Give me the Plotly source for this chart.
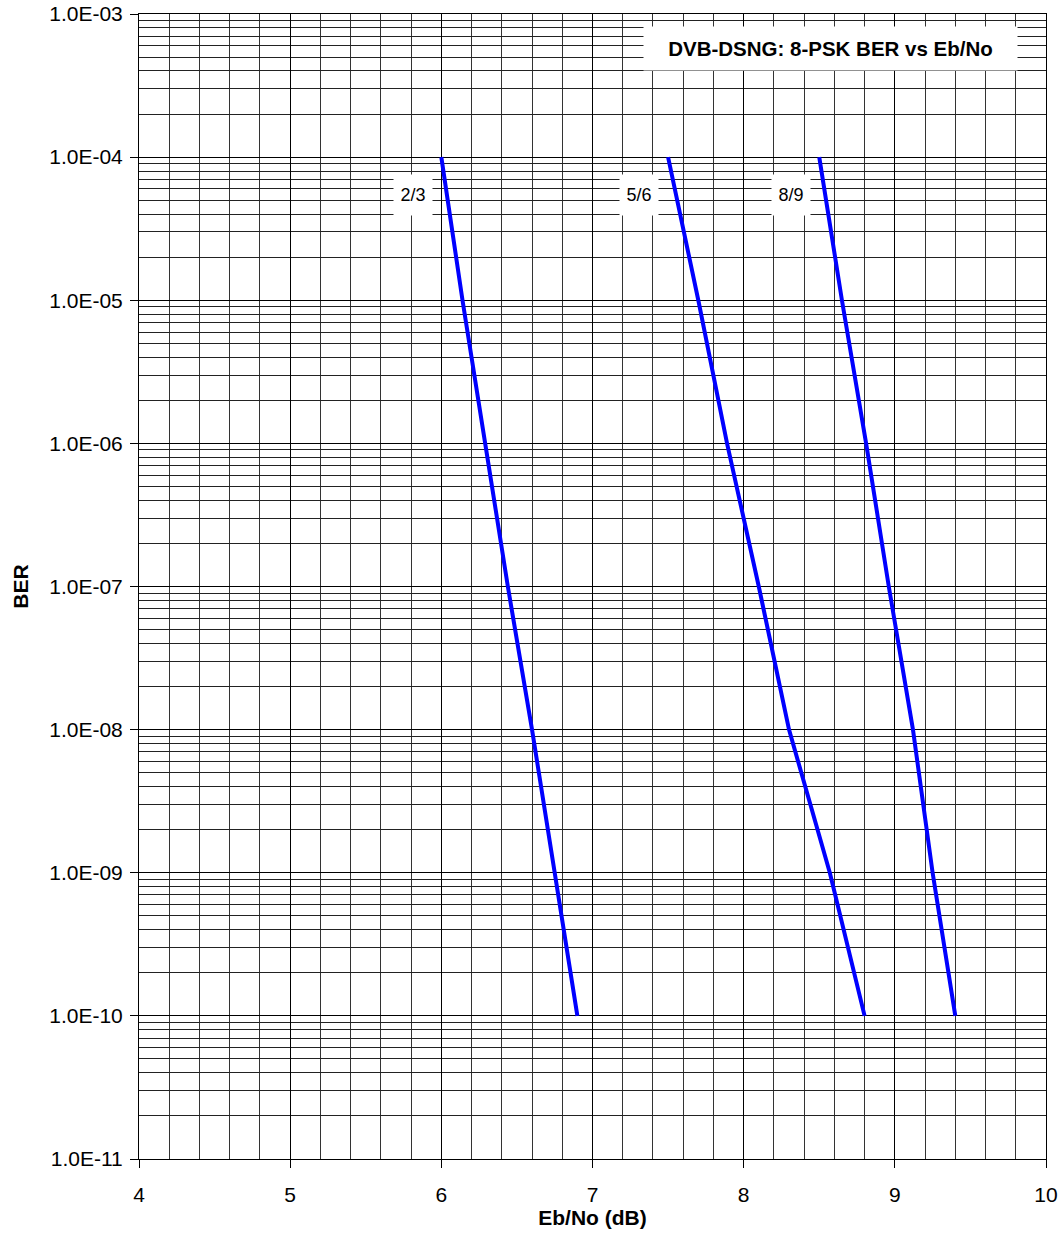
import math
import plotly.graph_objects as go

# ---- data ----
ber = [1e-4, 1e-5, 1e-6, 1e-7, 1e-8, 1e-9, 1e-10]
ebno_2_3 = [6.0, 6.14, 6.29, 6.44, 6.60, 6.75, 6.90]
ebno_5_6 = [7.5, 7.70, 7.89, 8.10, 8.30, 8.57, 8.80]
ebno_8_9 = [8.5, 8.65, 8.81, 8.96, 9.12, 9.25, 9.40]
rate_names = ["2/3", "5/6", "8/9"]

y_tickvals = [1e-3, 1e-4, 1e-5, 1e-6, 1e-7, 1e-8, 1e-9, 1e-10, 1e-11]
y_ticktext = ["1.0E-03", "1.0E-04", "1.0E-05", "1.0E-06", "1.0E-07",
              "1.0E-08", "1.0E-09", "1.0E-10", "1.0E-11"]
x_tickvals = [4, 5, 6, 7, 8, 9, 10]
x_ticktext = ["4", "5", "6", "7", "8", "9", "10"]

title_text = "DVB-DSNG: 8-PSK BER vs Eb/No"
x_title = "Eb/No (dB)"
y_title = "BER"

FONT = "Arial, 'Liberation Sans', sans-serif"

fig = go.Figure()
series = [ebno_2_3, ebno_5_6, ebno_8_9]
for name, xs in zip(rate_names, series):
    fig.add_trace(go.Scatter(
        x=xs, y=ber, mode="lines", name=name,
        line=dict(color="#0000FF", width=4),
        showlegend=False, hoverinfo="x+y",
    ))
    # rate label just left of the curve's top end
    fig.add_annotation(
        x=xs[0] - 0.19, y=math.log10(5.4e-5), xref="x", yref="y",
        text=name, showarrow=False,
        font=dict(family=FONT, size=18, color="black"),
        bgcolor="white", width=38, height=40, borderpad=0,
        xanchor="center", yanchor="middle",
    )

fig.add_annotation(
    x=0.762, y=0.970, xref="paper", yref="paper",
    text="<b>" + title_text + "</b>", showarrow=False,
    font=dict(family=FONT, size=20.5, color="black"),
    bgcolor="white", width=373, height=43, borderpad=0,
    xanchor="center", yanchor="middle",
)

fig.update_layout(
    width=1064, height=1255,
    margin=dict(l=139, r=18, t=14, b=96),
    paper_bgcolor="white", plot_bgcolor="white",
    font=dict(family=FONT, size=21, color="black"),
    xaxis=dict(
        range=[4, 10], tickvals=x_tickvals, ticktext=x_ticktext,
        ticks="outside", ticklen=8, tickcolor="black", tickwidth=1,
        ticklabelstandoff=9, ticklabeloverflow="allow",
        showgrid=True, gridcolor="black", gridwidth=1,
        minor=dict(dtick=0.2, showgrid=True, gridcolor="#333333",
                   gridwidth=1, ticks=""),
        showline=True, linecolor="black", linewidth=1, mirror=True,
        zeroline=False, automargin=False,
        title=dict(text="<b>" + x_title + "</b>", standoff=2,
                   font=dict(family=FONT, size=21)),
        tickfont=dict(family=FONT, size=21),
    ),
    yaxis=dict(
        type="log", range=[-11, -3],
        tickvals=y_tickvals, ticktext=y_ticktext,
        ticks="outside", ticklen=8, tickcolor="black", tickwidth=1,
        ticklabelstandoff=3, ticklabeloverflow="allow",
        showgrid=True, gridcolor="black", gridwidth=1,
        minor=dict(dtick="D1", showgrid=True, gridcolor="#222222",
                   gridwidth=1, ticks=""),
        showline=True, linecolor="black", linewidth=1, mirror=True,
        zeroline=False, automargin=False,
        title=dict(text="<b>" + y_title + "</b>", standoff=14,
                   font=dict(family=FONT, size=21)),
        tickfont=dict(family=FONT, size=21),
    ),
)

# remove the page's default 8px body margin so the figure sits at (0, 0)
fig.write_html("out.html", config={"displayModeBar": False},
               post_script="document.body.style.margin='0px';")
